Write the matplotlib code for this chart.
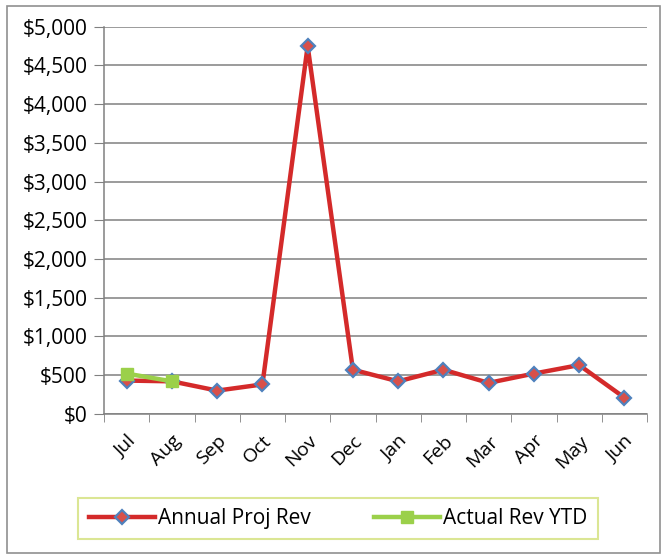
import matplotlib
matplotlib.use("Agg")
import matplotlib.pyplot as plt
from matplotlib.patches import Rectangle
from matplotlib.ticker import FuncFormatter, FixedLocator

months = ["Jul", "Aug", "Sep", "Oct", "Nov", "Dec", "Jan", "Feb", "Mar", "Apr", "May", "Jun"]
annual_proj_rev = [430, 420, 300, 380, 4750, 570, 420, 570, 400, 520, 630, 210]
actual_months = ["Jul", "Aug"]
actual_rev_ytd = [520, 420]
y_ticks = [0, 500, 1000, 1500, 2000, 2500, 3000, 3500, 4000, 4500, 5000]

plt.rcParams["font.family"] = ["Open Sans", "DejaVu Sans"]

fig = plt.figure(figsize=(6.67, 5.57), dpi=100)
ax = fig.add_axes([0.156, 0.257, 0.814, 0.695])

x = list(range(len(months)))
ax_pos = {m: i for i, m in enumerate(months)}

ax.plot(x, annual_proj_rev, color="#D42A2A", lw=3.2, marker="D", ms=7,
        mfc="#D8504A", mec="#4F81BD", mew=1.6, label="Annual Proj Rev", zorder=3)
ax.plot([ax_pos[m] for m in actual_months], actual_rev_ytd, color="#9BD04A", lw=3.2,
        marker="s", ms=9, mfc="#9BD04A", mec="#9BD04A", label="Actual Rev YTD", zorder=4)

ax.set_xlim(-0.5, len(months) - 0.5)
ax.set_ylim(0, 5000)
ax.yaxis.set_major_locator(FixedLocator(y_ticks))
ax.yaxis.set_major_formatter(FuncFormatter(lambda v, p: f"${v:,.0f}"))
ax.set_xticks(x)
ax.set_xticklabels(months, rotation=45, ha="right", rotation_mode="anchor", fontsize=14)
ax.set_xticks([i - 0.5 for i in range(len(months) + 1)], minor=True)
ax.tick_params(axis="x", which="major", length=0, pad=13)
ax.tick_params(axis="x", which="minor", length=6, color="#808080", direction="out")
ax.tick_params(axis="y", length=7, color="#808080", labelsize=15, pad=5)

ax.grid(axis="y", color="#808080", lw=1.1)
ax.set_axisbelow(True)
for s in ["top", "right"]:
    ax.spines[s].set_visible(False)
ax.spines["left"].set_color("#808080")
ax.spines["bottom"].set_color("#808080")
ax.spines["left"].set_linewidth(1.1)
ax.spines["bottom"].set_linewidth(1.1)

leg = fig.legend(loc="center", bbox_to_anchor=(0.507, 0.069), ncol=2, frameon=True,
                 fancybox=False, fontsize=15, handlelength=3.2, handletextpad=0.15,
                 columnspacing=3.0, borderpad=0.5, borderaxespad=0)
leg.get_frame().set_edgecolor("#D3E07A")
leg.get_frame().set_linewidth(1.5)

fig.patches.append(Rectangle((0.010, 0.008), 0.980, 0.982, transform=fig.transFigure,
                             fill=False, edgecolor="#909090", lw=1.2))

fig.savefig("out.png", dpi=100)
